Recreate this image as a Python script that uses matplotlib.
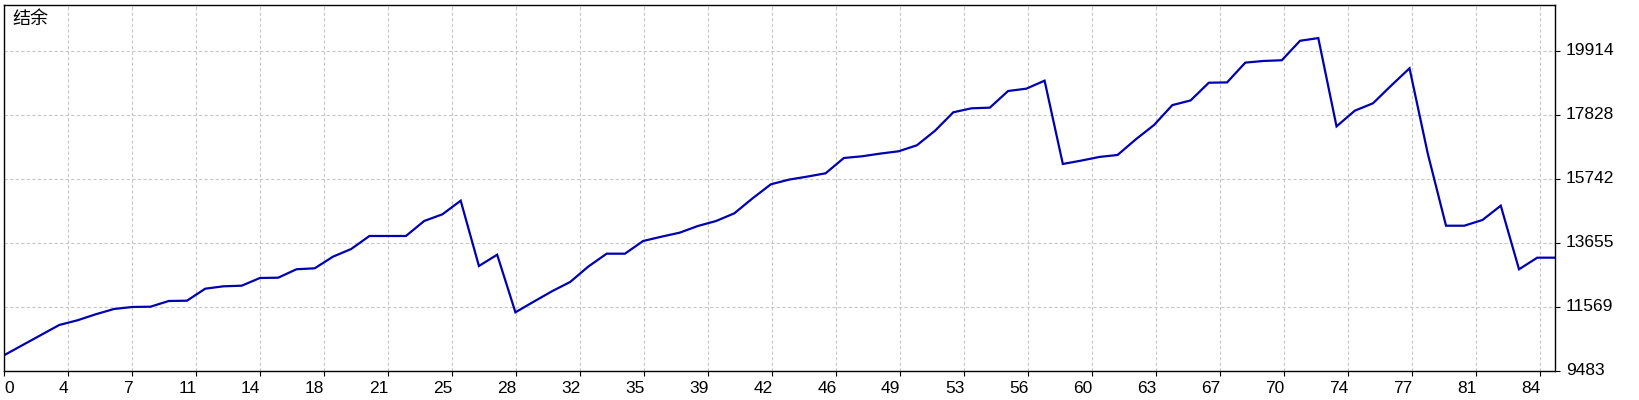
import matplotlib
matplotlib.use("Agg")
import matplotlib.pyplot as plt

# balance values per trade index
balance = [
    9995, 10321, 10647, 10973, 11126, 11322, 11494, 11560, 11569, 11755,
    11765, 12156, 12234, 12254, 12505, 12515, 12789, 12821, 13199, 13450,
    13874, 13874, 13874, 14363, 14581, 15025, 12896, 13264, 11387, 11732,
    12071, 12375, 12880, 13297, 13297, 13711, 13851, 13982, 14200, 14363,
    14614, 15103, 15559, 15712, 15810, 15918, 16417, 16472, 16560, 16635,
    16830, 17307, 17907, 18036, 18057, 18600, 18676, 18937, 16222, 16330,
    16450, 16515, 17025, 17492, 18140, 18292, 18870, 18880, 19525, 19579,
    19602, 20237, 20325, 17446, 17958, 18200, 18780, 19340, 16560, 14209,
    14209, 14396, 14862, 12789, 13167, 13167,
]
trades = list(range(len(balance)))

x_labels = ["0", "4", "7", "11", "14", "18", "21", "25", "28", "32", "35", "39",
            "42", "46", "49", "53", "56", "60", "63", "67", "70", "74", "77",
            "81", "84"]
y_labels = ["9483", "11569", "13655", "15742", "17828", "19914"]

y_min = 9483
y_step = 2086.2
y_max = 21413
x_step = 85 * 64 / 1551

W, H = 1640, 400
fig = plt.figure(figsize=(W / 100, H / 100), dpi=100)
left, right, top, bottom = 4.5, 1555.5, 4.7, 370.7
ax = fig.add_axes([left / W, 1 - bottom / H, (right - left) / W, (bottom - top) / H])

ax.plot(trades, balance, color="#0000b0", linewidth=1.6, solid_joinstyle="miter")

ax.set_xlim(0, len(balance) - 1)
ax.set_ylim(y_min, y_max)

xt = [k * x_step for k in range(len(x_labels))]
yt = [y_min + k * y_step for k in range(len(y_labels))]
ax.set_xticks(xt)
ax.set_yticks(yt)
ax.set_xticklabels(x_labels, fontfamily="Liberation Sans", fontsize=12.5, ha="right")
ax.set_yticklabels(y_labels, fontfamily="Liberation Sans", fontsize=12.5, va="center")
ax.get_xticklabels()[0].set_horizontalalignment("left")

ax.yaxis.tick_right()
ax.tick_params(axis="both", length=3.5, width=0.8, color="black", labelcolor="black")
ax.tick_params(axis="x", pad=4)
ax.tick_params(axis="y", pad=4)

ax.grid(True, color="#c8c8c8", linestyle=(0, (3, 2)), linewidth=0.8)
for s in ax.spines.values():
    s.set_color("black")
    s.set_linewidth(1.0)

fig.text(12 / W, 1 - 10 / H, "结余", fontfamily=["Noto Sans CJK SC", "DejaVu Sans"],
         fontsize=13, va="top", ha="left", color="black")

fig.savefig("out.png", dpi=100, facecolor="white")
